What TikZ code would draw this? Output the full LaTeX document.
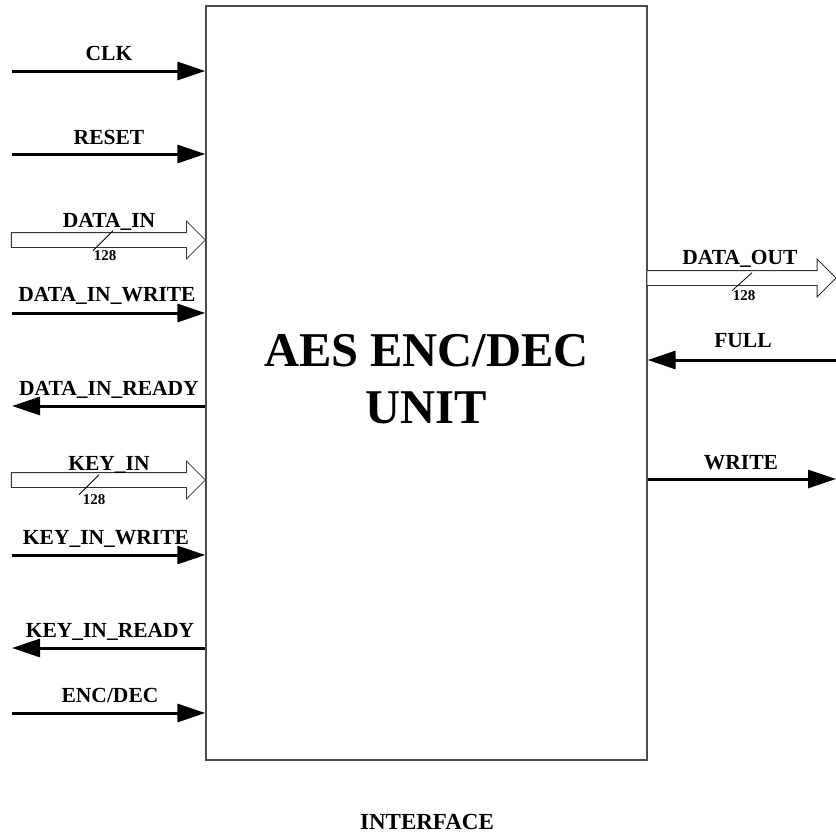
\documentclass[tikz,border=0pt]{standalone}
\usepackage{fontspec}
\setmainfont{Liberation Serif}
\usetikzlibrary{arrows.meta, shapes.arrows}

\begin{document}
\begin{tikzpicture}[x=1pt, y=-1pt,
  unitbox/.style={draw=black!70, line width=1.3pt, minimum width=441pt,
    minimum height=754pt, inner sep=0pt},
  sig/.style={line width=3pt, -{Triangle[length=28pt, width=18pt]}},
  bus/.style={single arrow, draw=black!80, line width=0.8pt, fill=white,
    inner xsep=0pt, inner ysep=7pt, outer sep=0pt, anchor=tip,
    single arrow head extend=11.5pt, single arrow tip angle=90},
  slash/.style={line width=0.8pt},
  lab/.style={anchor=base, inner sep=0pt, font=\fontsize{21.5}{24}\selectfont\bfseries},
  wlab/.style={inner sep=0pt, font=\fontsize{15}{17}\selectfont\bfseries}]
\useasboundingbox (0,0) rectangle (836,836);

\node[unitbox] (unit) at (426.5,383) {};
\node[align=center, inner sep=0pt, font=\fontsize{48.5}{57}\selectfont\bfseries]
  (title) at (426.5,379) {AES ENC/DEC\\UNIT};

% inputs on the left
\coordinate (clk) at (12,71);
\draw[sig] (clk) -- (clk -| unit.west);
\node[lab] (clklab) at (109,60) {CLK};

\coordinate (rst) at (12,154);
\draw[sig] (rst) -- (rst -| unit.west);
\node[lab] (rstlab) at (109,144) {RESET};

\node[bus, minimum height=194pt] (dinbus) at (unit.west |- 0,240) {};
\node[lab] (dinlab) at (109,227) {DATA\_IN};
\node[wlab] (dinw) at (105,256) {128};
\draw[slash] ([xshift=-12pt]dinw.north) -- ++(20,-20);

\coordinate (dinwr) at (12,313);
\draw[sig] (dinwr) -- (dinwr -| unit.west);
\node[lab] (dinwrlab) at (107,301) {DATA\_IN\_WRITE};

\coordinate (dinrdy) at (12,406);
\draw[sig] (dinrdy -| unit.west) -- (dinrdy);
\node[lab] (dinrdylab) at (109,395) {DATA\_IN\_READY};

\node[bus, minimum height=194pt] (keybus) at (unit.west |- 0,480) {};
\node[lab] (keylab) at (109,470) {KEY\_IN};
\node[wlab] (keyw) at (94,500) {128};
\draw[slash] ([xshift=-15pt]keyw.north) -- ++(20,-20);

\coordinate (keywr) at (12,555);
\draw[sig] (keywr) -- (keywr -| unit.west);
\node[lab] (keywrlab) at (106,544) {KEY\_IN\_WRITE};

\coordinate (keyrdy) at (12,648);
\draw[sig] (keyrdy -| unit.west) -- (keyrdy);
\node[lab] (keyrdylab) at (110,637) {KEY\_IN\_READY};

\coordinate (encdec) at (12,713);
\draw[sig] (encdec) -- (encdec -| unit.west);
\node[lab] (encdeclab) at (110,702) {ENC/DEC};

% outputs on the right
\node[bus, minimum height=189pt] (doutbus) at (836,278) {};
\node[lab] (doutlab) at (740,264) {DATA\_OUT};
\node[wlab] (doutw) at (744,296) {128};
\draw[slash] ([xshift=-12pt]doutw.north) -- ++(20,-18);

\coordinate (full) at (836,360);
\draw[sig] (full) -- (full -| unit.east);
\node[lab] (fulllab) at (743,347) {FULL};

\coordinate (wr) at (836,479);
\draw[sig] (wr -| unit.east) -- (wr);
\node[lab] (wrlab) at (741,469) {WRITE};

\node[lab, font=\fontsize{23}{26}\selectfont\bfseries] (caption) at (427,829) {INTERFACE};
\end{tikzpicture}
\end{document}
